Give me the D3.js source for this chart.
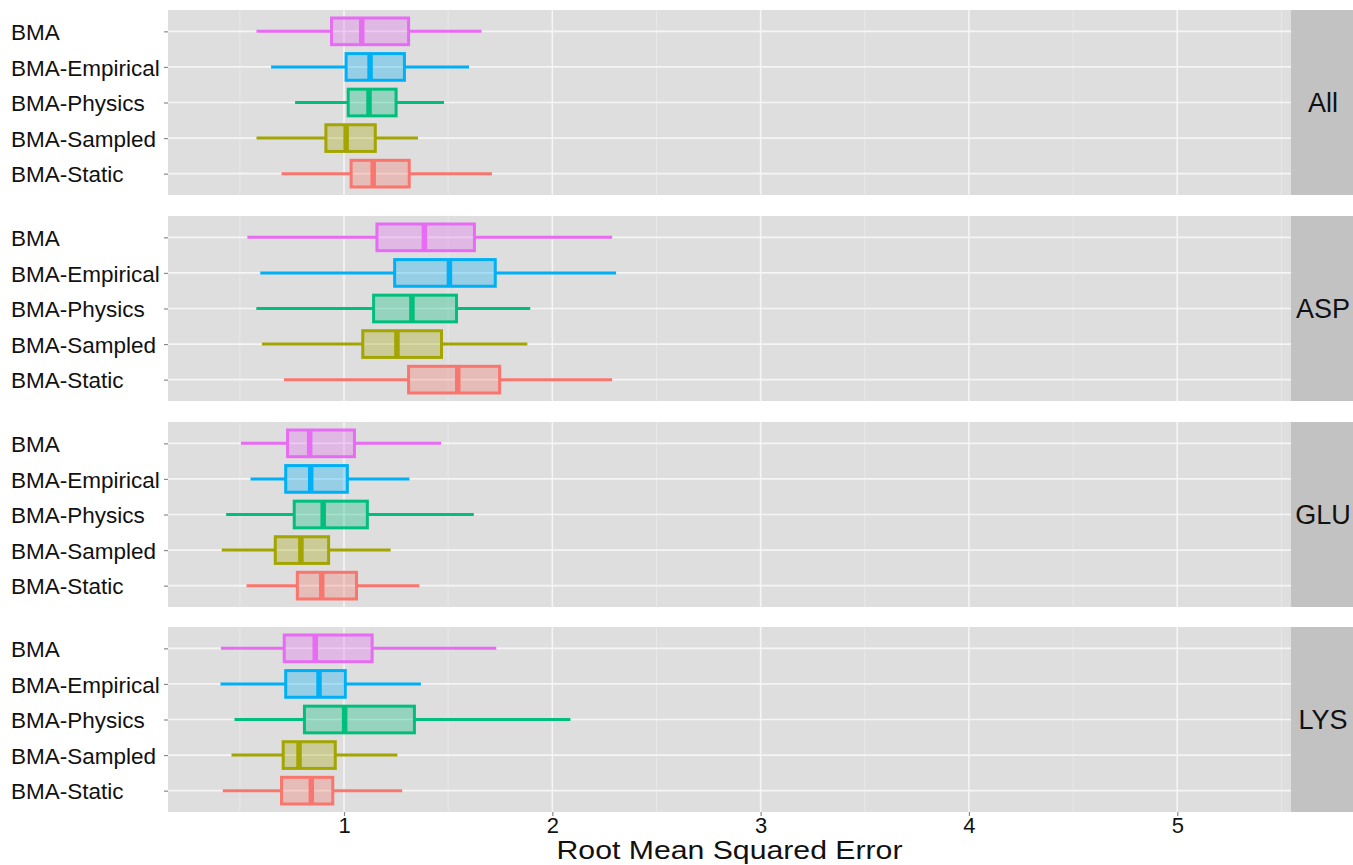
<!DOCTYPE html>
<html>
<head>
<meta charset="utf-8">
<script src="https://cdn.jsdelivr.net/npm/d3@7"></script>
<style>
  html, body { margin: 0; padding: 0; background: #fff; }
  svg { display: block; font-family: "Liberation Sans", Arial, sans-serif; }
</style>
</head>
<body>
<svg id="chart" width="1353" height="865"></svg>
<script>
// methods, top to bottom in every panel
const methods = ['BMA', 'BMA-Empirical', 'BMA-Physics', 'BMA-Sampled', 'BMA-Static']
const panels = ['All', 'ASP', 'GLU', 'LYS']
const colors = ['#E76BF3', '#00B0F6', '#00BF7D', '#A3A500', '#F8766D']
const xTicks = [1, 2, 3, 4, 5]
const xMinor = [0.5, 1.5, 2.5, 3.5, 4.5, 5.5]

// [whisker low, q1, median, q3, whisker high] per method
const statsAll = [
  [0.58, 0.94, 1.085, 1.31, 1.66],
  [0.65, 1.01, 1.125, 1.29, 1.60],
  [0.765, 1.02, 1.12, 1.25, 1.48],
  [0.58, 0.913, 1.01, 1.15, 1.355],
  [0.70, 1.034, 1.14, 1.313, 1.71]
]
const statsASP = [
  [0.536, 1.158, 1.386, 1.626, 2.287],
  [0.598, 1.243, 1.506, 1.726, 2.306],
  [0.579, 1.142, 1.326, 1.54, 1.894],
  [0.606, 1.09, 1.254, 1.468, 1.88],
  [0.712, 1.31, 1.546, 1.747, 2.287]
]
const statsGLU = [
  [0.505, 0.729, 0.835, 1.05, 1.466],
  [0.551, 0.72, 0.84, 1.016, 1.314],
  [0.434, 0.761, 0.90, 1.112, 1.623],
  [0.413, 0.67, 0.793, 0.926, 1.224],
  [0.532, 0.776, 0.893, 1.06, 1.362]
]
const statsLYS = [
  [0.409, 0.713, 0.862, 1.135, 1.731],
  [0.407, 0.72, 0.88, 1.006, 1.369],
  [0.474, 0.81, 1.003, 1.338, 2.087],
  [0.46, 0.708, 0.784, 0.958, 1.256],
  [0.418, 0.70, 0.843, 0.946, 1.279]
]
const panelStats = [statsAll, statsASP, statsGLU, statsLYS]

const svg = d3.select('#chart')
const left = 168
const right = 1291
const stripRight = 1353
const panelTops = [10, 216, 422, 627]
const panelH = 185

const x = d3.scaleLinear().domain([0.155, 5.546]).range([left, right])

panels.forEach((name, pi) => {
  const top = panelTops[pi]
  const y = d3.scalePoint().domain(methods).range([top, top + panelH]).padding(0.6)
  const step = y.step()
  const boxH = step * 0.75
  const g = svg.append('g').attr('class', 'panel')

  g.append('rect')
    .attr('x', left).attr('y', top)
    .attr('width', right - left).attr('height', panelH)
    .attr('fill', '#DEDEDE')

  g.selectAll('line.minor').data(xMinor).enter().append('line')
    .attr('class', 'minor')
    .attr('x1', (d) => x(d)).attr('x2', (d) => x(d))
    .attr('y1', top).attr('y2', top + panelH)
    .attr('stroke', '#E8E8E8').attr('stroke-width', 1)

  g.selectAll('line.major').data(xTicks).enter().append('line')
    .attr('class', 'major')
    .attr('x1', (d) => x(d)).attr('x2', (d) => x(d))
    .attr('y1', top).attr('y2', top + panelH)
    .attr('stroke', '#F5F5F5').attr('stroke-width', 1.6)

  g.selectAll('line.hgrid').data(methods).enter().append('line')
    .attr('class', 'hgrid')
    .attr('x1', left).attr('x2', right)
    .attr('y1', (d) => y(d)).attr('y2', (d) => y(d))
    .attr('stroke', '#F5F5F5').attr('stroke-width', 1.6)

  // strip on the right
  g.append('rect')
    .attr('x', right).attr('y', top)
    .attr('width', stripRight - right).attr('height', panelH)
    .attr('fill', '#C2C2C2')
  g.append('text')
    .attr('x', (right + stripRight) / 2 + 1).attr('y', top + panelH / 2)
    .attr('dy', '0.36em')
    .attr('text-anchor', 'middle')
    .attr('font-size', 27)
    .attr('fill', '#111')
    .text(name)

  // y axis: ticks on the panel edge, labels flush left
  const yAxis = g.append('g')
    .attr('transform', `translate(${left},0)`)
    .call(d3.axisLeft(y).tickSize(4).tickPadding(0))
  yAxis.select('.domain').remove()
  yAxis.selectAll('.tick line').attr('stroke', '#8A8A8A').attr('stroke-width', 1.2)
  yAxis.selectAll('.tick text')
    .attr('x', 11 - left)
    .attr('text-anchor', 'start')
    .attr('font-size', 22.5)
    .attr('font-family', '"Liberation Sans", Arial, sans-serif')
    .attr('fill', '#111')
    .attr('dy', '0.36em')

  const rows = methods.map((m, i) => ({ m, i, s: panelStats[pi][i] }))
  const box = g.selectAll('g.box').data(rows).enter().append('g').attr('class', 'box')

  box.append('line')
    .attr('x1', (d) => x(d.s[0])).attr('x2', (d) => x(d.s[1]))
    .attr('y1', (d) => y(d.m)).attr('y2', (d) => y(d.m))
    .attr('stroke', (d) => colors[d.i]).attr('stroke-width', 3)
  box.append('line')
    .attr('x1', (d) => x(d.s[3])).attr('x2', (d) => x(d.s[4]))
    .attr('y1', (d) => y(d.m)).attr('y2', (d) => y(d.m))
    .attr('stroke', (d) => colors[d.i]).attr('stroke-width', 3)
  box.append('rect')
    .attr('x', (d) => x(d.s[1]))
    .attr('y', (d) => y(d.m) - boxH / 2)
    .attr('width', (d) => x(d.s[3]) - x(d.s[1]))
    .attr('height', boxH)
    .attr('fill', (d) => colors[d.i]).attr('fill-opacity', 0.32)
    .attr('stroke', (d) => colors[d.i]).attr('stroke-width', 3)
  box.append('line')
    .attr('x1', (d) => x(d.s[2])).attr('x2', (d) => x(d.s[2]))
    .attr('y1', (d) => y(d.m) - boxH / 2).attr('y2', (d) => y(d.m) + boxH / 2)
    .attr('stroke', (d) => colors[d.i]).attr('stroke-width', 5.5)
})

// x axis under the last panel
const bottom = panelTops[3] + panelH
const xAxis = svg.append('g')
  .attr('transform', `translate(0,${bottom})`)
  .call(d3.axisBottom(x).tickValues(xTicks).tickFormat(d3.format('d')).tickSize(4).tickPadding(1))
xAxis.select('.domain').remove()
xAxis.selectAll('.tick line').attr('stroke', '#8A8A8A').attr('stroke-width', 1.2)
xAxis.selectAll('.tick text')
  .attr('font-size', 22)
  .attr('font-family', '"Liberation Sans", Arial, sans-serif')
  .attr('fill', '#111')

// title is wide but short in the reference, so stretch it to its width
svg.append('text')
  .attr('x', (left + right) / 2)
  .attr('y', 859)
  .attr('text-anchor', 'middle')
  .attr('font-size', 25)
  .attr('textLength', 346)
  .attr('lengthAdjust', 'spacingAndGlyphs')
  .attr('fill', '#111')
  .text('Root Mean Squared Error')
</script>
</body>
</html>
